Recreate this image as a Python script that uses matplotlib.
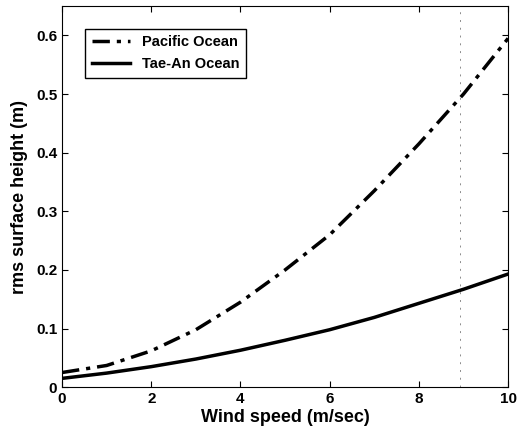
import matplotlib.pyplot as plt

plt.rcParams['font.family'] = ['Liberation Sans', 'DejaVu Sans']
plt.rcParams['font.weight'] = 'bold'

wind = [0, 1, 2, 3, 4, 5, 6, 7, 8, 9, 10]
pacific = [0.025, 0.037, 0.062, 0.098, 0.145, 0.200, 0.260, 0.335, 0.415, 0.500, 0.595]
taean = [0.015, 0.024, 0.035, 0.048, 0.063, 0.080, 0.098, 0.119, 0.143, 0.167, 0.193]

fig = plt.figure(figsize=(5.26, 4.36), dpi=100)
ax = fig.add_axes([0.118, 0.112, 0.848, 0.874])

# faint scan line
ax.axvline(8.92, color='0.55', lw=0.7, ls=(0, (2, 6)))

ax.plot(wind, pacific, color='black', lw=2.5, ls=(0, (5, 2, 1.2, 2)), label='Pacific Ocean')
ax.plot(wind, taean, color='black', lw=2.5, label='Tae-An Ocean')

ax.set_xlim(0, 10)
ax.set_ylim(0, 0.65)
ax.set_xticks([0, 2, 4, 6, 8, 10])
ax.set_yticks([0, 0.1, 0.2, 0.3, 0.4, 0.5, 0.6])
ax.set_yticklabels(['0', '0.1', '0.2', '0.3', '0.4', '0.5', '0.6'])
ax.tick_params(direction='in', top=True, right=True, labelsize=11, length=4)
for lab in ax.get_xticklabels() + ax.get_yticklabels():
    lab.set_fontweight('bold')

ax.set_xlabel('Wind speed (m/sec)', fontsize=13, fontweight='bold', labelpad=2)
ax.set_ylabel('rms surface height (m)', fontsize=13, fontweight='bold', labelpad=6)

leg = ax.legend(loc='upper left', bbox_to_anchor=(0.036, 0.96), fontsize=10.5,
                fancybox=False, edgecolor='black', framealpha=1,
                handlelength=2.6, borderpad=0.45, labelspacing=0.55)
leg.get_frame().set_linewidth(1.0)

plt.savefig('out.png', dpi=100)
